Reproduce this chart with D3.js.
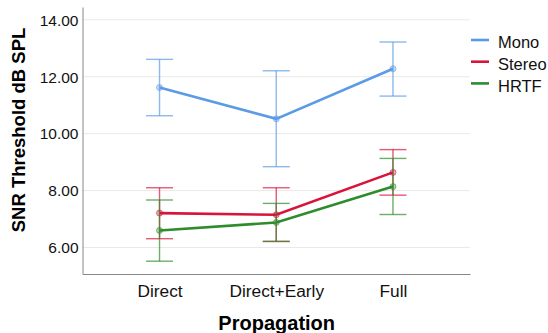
<!DOCTYPE html>
<html lang="en">
<head>
  <meta charset="UTF-8">
  <title>SNR Threshold</title>
  <style>
    body { margin: 0; background: #fff; }
    svg { display: block; font-family: 'Liberation Sans', Arial, sans-serif; }
    .tick text { fill: #111; }
  </style>
</head>
<body>
  <svg width="548" height="333"></svg>
  <script src="https://d3js.org/d3.v7.min.js"></script>
  <script>
    // data
    const categories = ['Direct', 'Direct+Early', 'Full'];
    const seriesNames = ['Mono', 'Stereo', 'HRTF'];
    const colors = ['#5b9be6', '#d8143a', '#2e8b2e'];
    const means = [
      [11.62, 10.52, 12.28],
      [7.21, 7.15, 8.64],
      [6.60, 6.88, 8.14]
    ];
    const upper = [
      [12.61, 12.21, 13.22],
      [8.10, 8.10, 9.44],
      [7.67, 7.55, 9.13]
    ];
    const lower = [
      [10.63, 8.84, 11.32],
      [6.31, 6.21, 7.84],
      [5.52, 6.22, 7.16]
    ];
    const yTicks = [6, 8, 10, 12, 14];

    const svg = d3.select('svg');
    const plotLeft = 82.5, plotRight = 470, plotTop = 7, plotBottom = 274;

    const x = d3.scalePoint().domain(categories).range([plotLeft, plotRight]).padding(0.66);
    const y = d3.scaleLinear().domain([5.07, 14.45]).range([plotBottom, plotTop]);

    // gridlines
    svg.append('g').selectAll('line').data(yTicks).join('line')
      .attr('x1', plotLeft).attr('x2', plotRight)
      .attr('y1', d => y(d)).attr('y2', d => y(d))
      .attr('stroke', '#e9e9e9').attr('stroke-width', 1);

    // axes
    const yAxis = svg.append('g').attr('transform', `translate(${plotLeft},0)`)
      .call(d3.axisLeft(y).tickValues(yTicks).tickFormat(d3.format('.2f')).tickSize(0).tickPadding(4));
    yAxis.select('.domain').attr('stroke', '#888');
    yAxis.selectAll('.tick text').style('font-size', '15.5px').attr('dy', '0.34em');

    const xAxis = svg.append('g').attr('transform', `translate(0,${plotBottom})`)
      .call(d3.axisBottom(x).tickSize(0).tickPadding(0));
    xAxis.select('.domain').attr('stroke', '#888');
    xAxis.selectAll('.tick text').style('font-size', '17.3px').attr('dy', null).attr('y', 22.7);

    // axis titles
    svg.append('text')
      .attr('transform', `translate(25,130) rotate(-90)`)
      .attr('text-anchor', 'middle')
      .style('font-size', '18.5px').style('font-weight', 'bold')
      .text('SNR Threshold dB SPL');
    svg.append('text')
      .attr('x', 276.7).attr('y', 330)
      .attr('text-anchor', 'middle')
      .style('font-size', '20px').style('font-weight', 'bold')
      .text('Propagation');

    const capW = 13.5;
    const line = d3.line().x((d, i) => x(categories[i])).y(d => y(d));

    seriesNames.forEach((name, s) => {
      const g = svg.append('g');
      const c = colors[s];
      // error bars
      categories.forEach((cat, i) => {
        const cx = x(cat);
        const eb = g.append('g').attr('stroke', c).attr('stroke-opacity', 0.7).attr('stroke-width', 1.4);
        eb.append('line').attr('x1', cx).attr('x2', cx).attr('y1', y(upper[s][i])).attr('y2', y(lower[s][i]));
        eb.append('line').attr('x1', cx - capW).attr('x2', cx + capW).attr('y1', y(upper[s][i])).attr('y2', y(upper[s][i]));
        eb.append('line').attr('x1', cx - capW).attr('x2', cx + capW).attr('y1', y(lower[s][i])).attr('y2', y(lower[s][i]));
      });
      g.append('path').datum(means[s])
        .attr('d', line).attr('fill', 'none')
        .attr('stroke', c).attr('stroke-width', 2.6);
      g.selectAll('circle').data(means[s]).join('circle')
        .attr('cx', (d, i) => x(categories[i])).attr('cy', d => y(d))
        .attr('r', 3).attr('fill', c).attr('fill-opacity', 0.35)
        .attr('stroke', c).attr('stroke-opacity', 0.6).attr('stroke-width', 1);

      // legend
      const ly = 40 + s * 21.7;
      svg.append('line').attr('x1', 471).attr('x2', 489).attr('y1', ly).attr('y2', ly)
        .attr('stroke', c).attr('stroke-width', 2.6);
      svg.append('text').attr('x', 498).attr('y', ly + 8.3)
        .style('font-size', '16.5px').attr('fill', '#111').text(name);
    });
  </script>
</body>
</html>
